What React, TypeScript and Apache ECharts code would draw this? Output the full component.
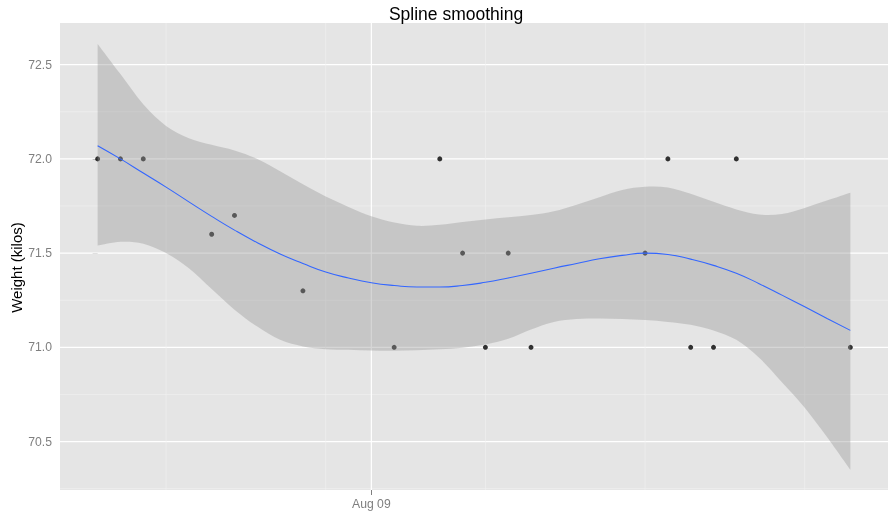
import React, { useEffect, useRef } from "react";
import * as echarts from "echarts";

// Observations: day offset from Jul 28 and weight (kilos)
const obsDays = [0, 1, 2, 5, 6, 9, 13, 15, 16, 17, 18, 19, 24, 25, 26, 27, 28, 33];
const obsWeights = [72.0, 72.0, 72.0, 71.6, 71.7, 71.3, 71.0, 72.0, 71.5, 71.0, 71.5, 71.0, 71.5, 72.0, 71.0, 71.0, 72.0, 71.0];

const fitDays = [0, 1, 2, 3, 4, 5, 6, 7, 8, 9, 10, 11, 12, 13, 14, 15, 16, 17, 18, 19, 20, 21, 22, 23, 24, 25, 26, 27, 28, 29, 30, 31, 32, 33];
const fitValues = [72.07, 72.0, 71.925, 71.85, 71.772, 71.695, 71.622, 71.555, 71.495, 71.445, 71.4, 71.368, 71.343, 71.328, 71.32, 71.32, 71.328, 71.345, 71.368, 71.393, 71.42, 71.445, 71.47, 71.488, 71.5, 71.493, 71.468, 71.435, 71.393, 71.338, 71.277, 71.215, 71.152, 71.09];
const bandUpper = [72.61, 72.45, 72.29, 72.175, 72.11, 72.075, 72.045, 72.0, 71.935, 71.865, 71.8, 71.745, 71.695, 71.662, 71.645, 71.65, 71.665, 71.678, 71.69, 71.702, 71.722, 71.757, 71.797, 71.835, 71.852, 71.848, 71.815, 71.772, 71.732, 71.705, 71.708, 71.74, 71.78, 71.82];
const bandLower = [71.54, 71.56, 71.55, 71.5, 71.42, 71.31, 71.2, 71.11, 71.04, 71.005, 70.99, 70.987, 70.983, 70.982, 70.985, 70.99, 70.998, 71.015, 71.045, 71.095, 71.135, 71.15, 71.153, 71.15, 71.145, 71.135, 71.12, 71.09, 71.04, 70.945, 70.815, 70.68, 70.52, 70.35];

// Axis breaks
const xMajorBreaks = [12];
const xMajorLabels = ["Aug 09"];
const xMinorBreaks = [3, 10, 17, 24, 31];
const yMajorBreaks = [70.5, 71.0, 71.5, 72.0, 72.5];
const yMinorBreaks = [70.25, 70.75, 71.25, 71.75, 72.25];

const FONT = "'Liberation Sans', Arial, Helvetica, sans-serif";

// Catmull-Rom spline through pixel points, as SVG path segments (without initial M)
function splineSegments(p: number[][]): string {
  let d = "";
  const n = p.length;
  for (let i = 0; i < n - 1; i++) {
    const p0 = p[Math.max(i - 1, 0)];
    const p1 = p[i];
    const p2 = p[i + 1];
    const p3 = p[Math.min(i + 2, n - 1)];
    const c1x = p1[0] + (p2[0] - p0[0]) / 6;
    const c1y = p1[1] + (p2[1] - p0[1]) / 6;
    const c2x = p2[0] - (p3[0] - p1[0]) / 6;
    const c2y = p2[1] - (p3[1] - p1[1]) / 6;
    d += ` C ${c1x} ${c1y} ${c2x} ${c2y} ${p2[0]} ${p2[1]}`;
  }
  return d;
}

export default function App() {
  const ref = useRef<HTMLDivElement>(null);

  useEffect(() => {
    if (!ref.current) return;
    const chart = echarts.init(ref.current, undefined, { renderer: "svg" });

    const minorStyle = { stroke: "#F2F2F2", lineWidth: 0.6 };
    const majorStyle = { stroke: "#FFFFFF", lineWidth: 1.2 };

    const vGrid = (params: any, api: any) => {
      const cs = params.coordSys;
      const x = api.coord([api.value(0), 71])[0];
      return {
        type: "line",
        shape: { x1: x, y1: cs.y, x2: x, y2: cs.y + cs.height },
        style: api.value(1) ? majorStyle : minorStyle,
        silent: true,
      };
    };
    const hGrid = (params: any, api: any) => {
      const cs = params.coordSys;
      const y = api.coord([0, api.value(0)])[1];
      return {
        type: "line",
        shape: { x1: cs.x, y1: y, x2: cs.x + cs.width, y2: y },
        style: api.value(1) ? majorStyle : minorStyle,
        silent: true,
      };
    };

    const bandRender = (params: any, api: any) => {
      if (params.dataIndex !== 0) return null;
      const up: number[][] = [];
      const lo: number[][] = [];
      for (let i = 0; i < fitDays.length; i++) up.push(api.coord([fitDays[i], bandUpper[i]]));
      for (let i = fitDays.length - 1; i >= 0; i--) lo.push(api.coord([fitDays[i], bandLower[i]]));
      const d =
        `M ${up[0][0]} ${up[0][1]}` +
        splineSegments(up) +
        ` L ${lo[0][0]} ${lo[0][1]}` +
        splineSegments(lo) +
        " Z";
      return {
        type: "path",
        shape: { pathData: d },
        style: { fill: "#999999", opacity: 0.4 },
        silent: true,
      };
    };

    chart.setOption({
      animation: false,
      textStyle: { fontFamily: FONT },
      grid: {
        left: 60,
        right: 2,
        top: 23,
        bottom: 22,
        show: true,
        backgroundColor: "#E5E5E5",
        borderWidth: 0,
      },
      xAxis: {
        type: "value",
        min: -1.65,
        max: 34.65,
        splitLine: { show: false },
        axisLine: { show: false },
        axisTick: {
          show: true,
          customValues: xMajorBreaks,
          length: 5,
          lineStyle: { color: "#7F7F7F", width: 1 },
        },
        axisLabel: {
          customValues: xMajorBreaks,
          formatter: (v: number) => {
            const i = xMajorBreaks.indexOf(v);
            return i >= 0 ? xMajorLabels[i] : "";
          },
          color: "#7F7F7F",
          fontSize: 12.2,
          fontFamily: FONT,
          margin: 8,
        },
      },
      yAxis: {
        type: "value",
        min: 70.243,
        max: 72.721,
        splitLine: { show: false },
        axisLine: { show: false },
        axisTick: {
          show: true,
          customValues: yMajorBreaks,
          length: 5,
          lineStyle: { color: "#7F7F7F", width: 1 },
        },
        axisLabel: {
          customValues: yMajorBreaks,
          formatter: (v: number) => v.toFixed(1),
          color: "#7F7F7F",
          fontSize: 12.2,
          fontFamily: FONT,
          margin: 8,
        },
      },
      graphic: [
        {
          type: "text",
          x: 456,
          y: 14,
          style: {
            text: "Spline smoothing",
            fontSize: 17.5,
            fontFamily: FONT,
            fill: "#000000",
            align: "center",
            verticalAlign: "middle",
          },
        },
        {
          type: "text",
          x: 16,
          y: 267.5,
          rotation: Math.PI / 2,
          style: {
            text: "Weight (kilos)",
            fontSize: 15,
            fontFamily: FONT,
            fill: "#000000",
            align: "center",
            verticalAlign: "middle",
          },
        },
      ],
      series: [
        {
          type: "custom",
          z: 1,
          silent: true,
          renderItem: hGrid,
          encode: { y: 0 },
          data: [
            ...yMinorBreaks.map((v) => [v, 0]),
            ...yMajorBreaks.map((v) => [v, 1]),
          ],
        },
        {
          type: "custom",
          z: 1,
          silent: true,
          renderItem: vGrid,
          encode: { x: 0 },
          data: [
            ...xMinorBreaks.map((d) => [d, 0]),
            ...xMajorBreaks.map((d) => [d, 1]),
          ],
        },
        {
          type: "scatter",
          z: 2,
          symbol: "circle",
          symbolSize: 5,
          itemStyle: { color: "#000000" },
          data: obsDays.map((d, i) => [d, obsWeights[i]]),
        },
        {
          type: "custom",
          z: 3,
          silent: true,
          renderItem: bandRender,
          encode: { x: 0, y: [1, 2] },
          data: fitDays.map((d, i) => [d, bandLower[i], bandUpper[i]]),
        },
        {
          type: "line",
          z: 4,
          smooth: true,
          symbol: "none",
          lineStyle: { color: "#3366FF", width: 1.1 },
          data: fitDays.map((d, i) => [d, fitValues[i]]),
        },
      ],
    });

    return () => chart.dispose();
  }, []);

  return (
    <div
      ref={ref}
      style={{ position: "fixed", left: 0, top: 0, width: 890, height: 512 }}
    />
  );
}
